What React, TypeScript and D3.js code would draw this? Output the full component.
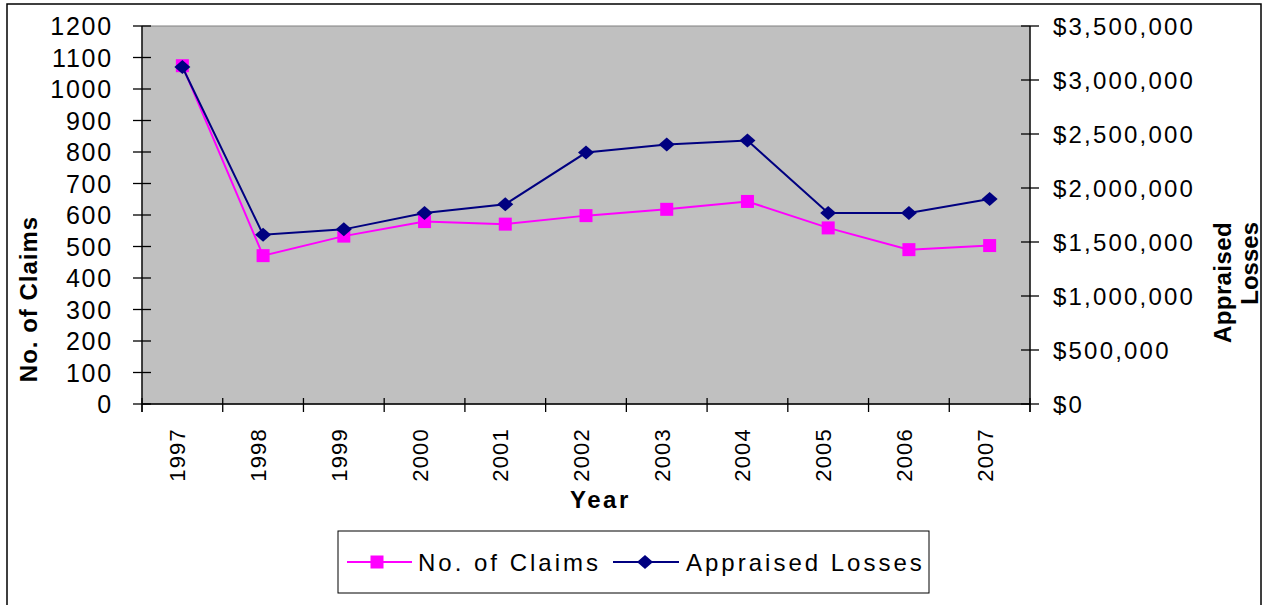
import React from "react";
import * as d3 from "d3";

const years = ["1997", "1998", "1999", "2000", "2001", "2002", "2003", "2004", "2005", "2006", "2007"];
const claims = [1074, 471, 533, 579, 571, 598, 618, 643, 559, 490, 503];
const losses = [3120000, 1568000, 1617000, 1768000, 1849000, 2328000, 2403000, 2440000, 1768000, 1768000, 1898000];
const leftTicks = [0, 100, 200, 300, 400, 500, 600, 700, 800, 900, 1000, 1100, 1200];
const rightTicks = [0, 500000, 1000000, 1500000, 2000000, 2500000, 3000000, 3500000];

const FONT = "'Liberation Sans', Arial, sans-serif";
const MAGENTA = "#FF00FF";
const NAVY = "#000080";

export default function App() {
  const left = 142, right = 1030, top = 26, bottom = 404;
  const x = d3.scaleBand<string>().domain(years).range([left, right]).padding(0);
  const yL = d3.scaleLinear().domain([0, 1200]).range([bottom, top]);
  const yR = d3.scaleLinear().domain([0, 3500000]).range([bottom, top]);
  const cx = (y: string) => (x(y) as number) + x.bandwidth() / 2;

  const claimLine = d3.line<number>().x((_, i) => cx(years[i])).y((d) => yL(d))(claims) || "";
  const lossLine = d3.line<number>().x((_, i) => cx(years[i])).y((d) => yR(d))(losses) || "";
  const fmt = (v: number) => "$" + d3.format(",")(v);

  const sq = 13;
  const diamond = (px: number, py: number, w = 8, h = 7) =>
    `M${px},${py - h}L${px + w},${py}L${px},${py + h}L${px - w},${py}Z`;

  return (
    <svg width={1265} height={605} style={{ position: "absolute", left: 0, top: 0, background: "#fff" }} fontFamily={FONT}>
      <rect x={7} y={4} width={1254} height={620} fill="#fff" stroke="#000" strokeWidth={1.5} />
      <rect x={left} y={top} width={right - left} height={bottom - top} fill="#C0C0C0" stroke="#808080" strokeWidth={1} />

      {/* left axis */}
      <line x1={left} x2={left} y1={top} y2={bottom + 8} stroke="#000" strokeWidth={1.3} />
      {leftTicks.map((t) => (
        <g key={"l" + t}>
          <line x1={133} x2={151} y1={yL(t)} y2={yL(t)} stroke="#000" strokeWidth={1.3} />
          <text x={113} y={yL(t) + 9} textAnchor="end" fontSize={25} letterSpacing={1.8}>{t}</text>
        </g>
      ))}

      {/* right axis */}
      <line x1={right} x2={right} y1={top} y2={bottom + 8} stroke="#000" strokeWidth={1.3} />
      {rightTicks.map((t) => (
        <g key={"r" + t}>
          <line x1={1021} x2={1039} y1={yR(t)} y2={yR(t)} stroke="#000" strokeWidth={1.3} />
          <text x={1053} y={yR(t) + 9} textAnchor="start" fontSize={24} letterSpacing={2.2}>{fmt(t)}</text>
        </g>
      ))}

      {/* x axis */}
      <line x1={left} x2={right} y1={bottom} y2={bottom} stroke="#000" strokeWidth={1.3} />
      {years.concat(["end"]).map((y, i) => {
        const px = i < years.length ? (x(y) as number) : right;
        return <line key={"xt" + i} x1={px} x2={px} y1={bottom - 6} y2={bottom + 8} stroke="#000" strokeWidth={1.3} />;
      })}
      {years.map((y) => (
        <text key={"xl" + y} transform={`translate(${cx(y) + 3},428) rotate(-90)`} textAnchor="end" fontSize={22} letterSpacing={1.2}>{y}</text>
      ))}

      {/* axis titles */}
      <text transform="translate(37,299) rotate(-90)" textAnchor="middle" fontSize={24} fontWeight="bold" letterSpacing={1}>No. of Claims</text>
      <text x={570} y={508} fontSize={24} fontWeight="bold" letterSpacing={2.5}>Year</text>
      <text transform="translate(1231,222) rotate(-90)" textAnchor="end" fontSize={24} fontWeight="bold" letterSpacing={0.4}>Appraised</text>
      <text transform="translate(1258,222) rotate(-90)" textAnchor="end" fontSize={24} fontWeight="bold">Losses</text>

      {/* series */}
      <path d={claimLine} fill="none" stroke={MAGENTA} strokeWidth={2} />
      {claims.map((v, i) => (
        <rect key={"c" + i} x={cx(years[i]) - sq / 2} y={yL(v) - sq / 2} width={sq} height={sq} fill={MAGENTA} />
      ))}
      <path d={lossLine} fill="none" stroke={NAVY} strokeWidth={2} />
      {losses.map((v, i) => (
        <path key={"d" + i} d={diamond(cx(years[i]), yR(v))} fill={NAVY} />
      ))}

      {/* legend */}
      <rect x={338} y={531} width={591} height={62} fill="#fff" stroke="#000" strokeWidth={1} />
      <line x1={347} x2={412} y1={562} y2={562} stroke={MAGENTA} strokeWidth={2} />
      <rect x={377 - 6.5} y={562 - 6.5} width={13} height={13} fill={MAGENTA} />
      <text x={418} y={570.5} fontSize={24} letterSpacing={3}>No. of Claims</text>
      <line x1={613} x2={679} y1={562} y2={562} stroke={NAVY} strokeWidth={2} />
      <path d={diamond(645, 562)} fill={NAVY} />
      <text x={686} y={570.5} fontSize={24} letterSpacing={3}>Appraised Losses</text>
    </svg>
  );
}
